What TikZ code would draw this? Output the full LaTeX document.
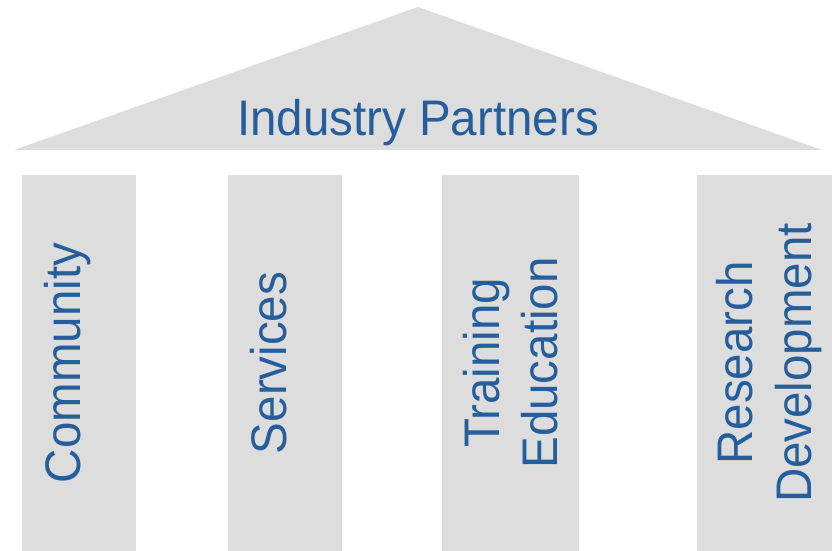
\documentclass[tikz,border=0pt]{standalone}
\usepackage{fontspec}
\setmainfont{Liberation Sans}[FakeStretch=0.95]
\definecolor{pillargray}{RGB}{221,221,221}
\definecolor{textblue}{RGB}{37,94,155}
\begin{document}
\begin{tikzpicture}[x=1pt,y=-1pt,
  part/.style={fill=pillargray, draw=none},
  lbl/.style={text=textblue, font=\fontsize{50}{58.5}\selectfont, inner sep=0pt},
  vlbl/.style={lbl, rotate=90, align=center}]
\useasboundingbox (0,0) rectangle (832,551);
% roof
\path[part] (14,150) -- (418,7) -- (822,150) -- cycle;
\node[lbl, anchor=base] (roof) at (418,135) {Industry Partners};
% pillars
\path[part] (22,175) rectangle (136,551);
\path[part] (228,175) rectangle (342,551);
\path[part] (442,175) rectangle (579,551);
\path[part] (697,175) rectangle (832,551);
% pillar labels
\node[vlbl, anchor=base] (community) at (80,363) {Community};
\node[vlbl, anchor=base] (services) at (286,363) {Services};
\node[vlbl, anchor=center] (training) at (510.5,363) {Training\\Education};
\node[vlbl, anchor=center] (research) at (769,363) {Research\\Development};
\end{tikzpicture}
\end{document}
